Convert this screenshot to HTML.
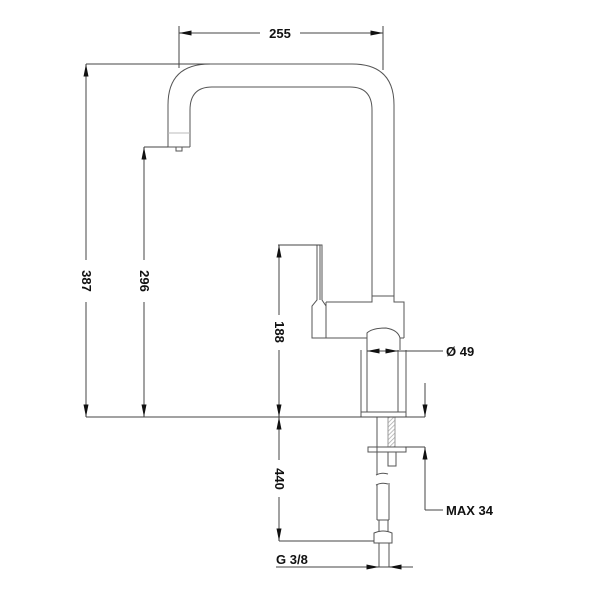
<!DOCTYPE html>
<html><head><style>
body{margin:0;background:#fff}
svg{display:block}
text{font-family:"Liberation Sans",sans-serif;font-weight:bold;font-size:13px;fill:#111}
</style></head><body>
<svg width="600" height="600" viewBox="0 0 600 600" xmlns="http://www.w3.org/2000/svg">
<defs>
<marker id="a" viewBox="0 0 10 4" refX="10" refY="2" markerWidth="14" markerHeight="5" markerUnits="userSpaceOnUse" orient="auto-start-reverse"><path d="M0,0L10,2L0,4z" fill="#111"/></marker>
<pattern id="h" width="3" height="3" patternUnits="userSpaceOnUse" patternTransform="rotate(45)"><line x1="0" y1="0" x2="0" y2="3" stroke="#aaa" stroke-width="1.5"/></pattern>
</defs>
<g fill="none" stroke="#555" stroke-width="1">
<!-- spout -->
<path d="M168,147 V105 Q168,64 210,64 H352 Q394,64 394,105 V296"/>
<path d="M190,147 V110 Q190,87 212,87 H350 Q372,87 372,110 V296"/>
<line x1="168" y1="133" x2="190" y2="133" stroke="#bbb"/>
<path d="M168,147 H190"/>
<rect x="176" y="147" width="6" height="4"/>
<line x1="372" y1="296" x2="394" y2="296"/>
<!-- body -->
<path d="M326,302 H372 V296 H394 V302 H404 V338"/>
<path d="M326,302 V338 H367"/>
<path d="M367,338 V333 Q372,328 386,328 Q398,330 400,338 V350 M367,338 V350"/>
<path d="M404,338 L400,338"/>
<!-- lever -->
<path d="M317,245 H322 V300 L326,306 V338 H312 V306 L317,300 Z"/>
<line x1="320" y1="245" x2="320" y2="300"/>
<!-- base column -->
<path d="M361,350 V412 M367,350 V412 M398,350 V412 M406,350 V412"/>
<rect x="361" y="412" width="45" height="5"/>
<!-- shank -->
<path d="M377,417 V475 M388,417 V447"/>
<rect x="388" y="417" width="7" height="30" fill="url(#h)" stroke="#999"/>
<rect x="368" y="447" width="38" height="5"/>
<rect x="388" y="452" width="8" height="14"/>
<path d="M377,452 V475 M376,475 Q382,472 388,474"/>
<path d="M376,485 Q382,482 388,484 M377,485 V520 M389,483 V520"/>
<path d="M377,520 H389 M379,520 V532 M388,520 V532"/>
<path d="M374,533 Q383,529 392,533 V543 H374 Z"/>
<path d="M379,543 V567 M389,543 V567"/>
</g>
<g stroke="#444" stroke-width="1" fill="none">
<!-- 255 -->
<line x1="179" y1="26" x2="179" y2="68"/>
<line x1="383" y1="26" x2="383" y2="70"/>
<line x1="179" y1="33" x2="260" y2="33" marker-start="url(#a)"/>
<line x1="300" y1="33" x2="383" y2="33" marker-end="url(#a)"/>
<!-- extension lines -->
<line x1="86" y1="64" x2="210" y2="64"/>
<line x1="144" y1="147" x2="168" y2="147"/>
<line x1="86" y1="417" x2="425" y2="417"/>
<!-- 387 -->
<line x1="86" y1="64" x2="86" y2="260" marker-start="url(#a)"/>
<line x1="86" y1="302" x2="86" y2="417" marker-end="url(#a)"/>
<!-- 296 -->
<line x1="144" y1="147" x2="144" y2="260" marker-start="url(#a)"/>
<line x1="144" y1="302" x2="144" y2="417" marker-end="url(#a)"/>
<!-- 188 -->
<line x1="278" y1="245" x2="320" y2="245"/>
<line x1="279" y1="245" x2="279" y2="315" marker-start="url(#a)"/>
<line x1="279" y1="350" x2="279" y2="417" marker-end="url(#a)"/>
<!-- 440 -->
<line x1="279" y1="417" x2="279" y2="460" marker-start="url(#a)"/>
<line x1="279" y1="497" x2="279" y2="541" marker-end="url(#a)"/>
<line x1="279" y1="541" x2="374" y2="541"/>
<!-- G 3/8 -->
<line x1="276" y1="567" x2="413" y2="567"/>
<line x1="364" y1="567" x2="379" y2="567" marker-end="url(#a)"/>
<line x1="404" y1="567" x2="389" y2="567" marker-end="url(#a)"/>
<!-- Ø49 -->
<line x1="367" y1="351" x2="443" y2="351"/>
<line x1="352" y1="351" x2="367" y2="351" stroke="none"/>
<line x1="382" y1="351" x2="367" y2="351" marker-end="url(#a)"/>
<line x1="384" y1="351" x2="398" y2="351" marker-end="url(#a)"/>
<!-- MAX 34 -->
<line x1="425" y1="383" x2="425" y2="417" marker-end="url(#a)"/>
<line x1="405" y1="447" x2="425" y2="447"/>
<line x1="425" y1="510" x2="425" y2="447" marker-end="url(#a)"/>
<line x1="425" y1="510" x2="443" y2="510"/>
</g>
<text x="280" y="38" text-anchor="middle">255</text>
<text transform="translate(82,281) rotate(90)" text-anchor="middle">387</text>
<text transform="translate(140,281) rotate(90)" text-anchor="middle">296</text>
<text transform="translate(275,332) rotate(90)" text-anchor="middle">188</text>
<text transform="translate(275,479) rotate(90)" text-anchor="middle">440</text>
<text x="446" y="356">Ø 49</text>
<text x="446" y="515">MAX 34</text>
<text x="276" y="564">G 3/8</text>
</svg>
</body></html>
